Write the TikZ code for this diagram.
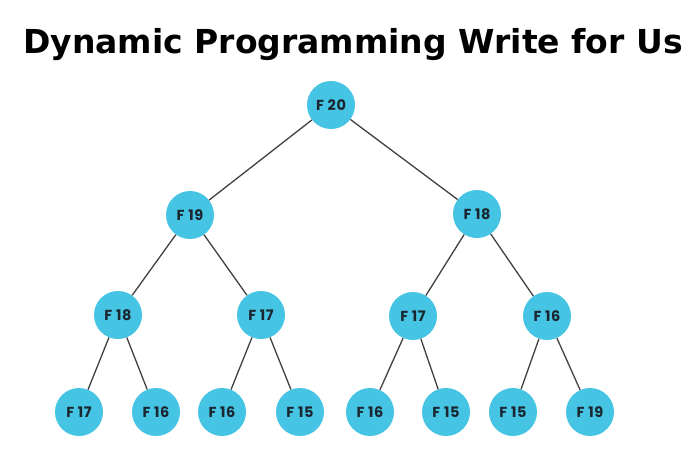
\documentclass[tikz,border=0pt]{standalone}
\usepackage{fontspec}
\setmainfont{DejaVu Sans}
\newfontfamily\labfont[LetterSpace=4]{Poppins}
\definecolor{nodecyan}{HTML}{45C4E4}
\definecolor{edgegray}{HTML}{404040}
\definecolor{labtext}{HTML}{1B2730}
\begin{document}
\begin{tikzpicture}[x=1pt,y=-1pt,
  fnode/.style={circle,fill=nodecyan,draw=none,minimum size=48pt,inner sep=0pt,
    font=\labfont\fontsize{14.5}{14.5}\selectfont\bfseries,text=labtext},
  edge/.style={draw=edgegray,line width=1.3pt}]
\useasboundingbox (0,0) rectangle (700,450);
\node[font=\bfseries\fontsize{33}{33}\selectfont] (title) at (353,45) {Dynamic Programming Write for Us};
\node[fnode] (a) at (331,105) {F 20};
\node[fnode] (b1) at (190,215) {F 19};
\node[fnode] (b2) at (477,214) {F 18};
\node[fnode] (c1) at (118,315) {F 18};
\node[fnode] (c2) at (261,315) {F 17};
\node[fnode] (c3) at (413,316) {F 17};
\node[fnode] (c4) at (547,316) {F 16};
\node[fnode] (d1) at (79,412) {F 17};
\node[fnode] (d2) at (156,412) {F 16};
\node[fnode] (d3) at (222,412) {F 16};
\node[fnode] (d4) at (300,412) {F 15};
\node[fnode] (d5) at (370,412) {F 16};
\node[fnode] (d6) at (446,412) {F 15};
\node[fnode] (d7) at (513,412) {F 15};
\node[fnode] (d8) at (590,412) {F 19};
\draw[edge] (a) -- (b1);
\draw[edge] (a) -- (b2);
\draw[edge] (b1) -- (c1);
\draw[edge] (b1) -- (c2);
\draw[edge] (b2) -- (c3);
\draw[edge] (b2) -- (c4);
\draw[edge] (c1) -- (d1);
\draw[edge] (c1) -- (d2);
\draw[edge] (c2) -- (d3);
\draw[edge] (c2) -- (d4);
\draw[edge] (c3) -- (d5);
\draw[edge] (c3) -- (d6);
\draw[edge] (c4) -- (d7);
\draw[edge] (c4) -- (d8);
\end{tikzpicture}
\end{document}
